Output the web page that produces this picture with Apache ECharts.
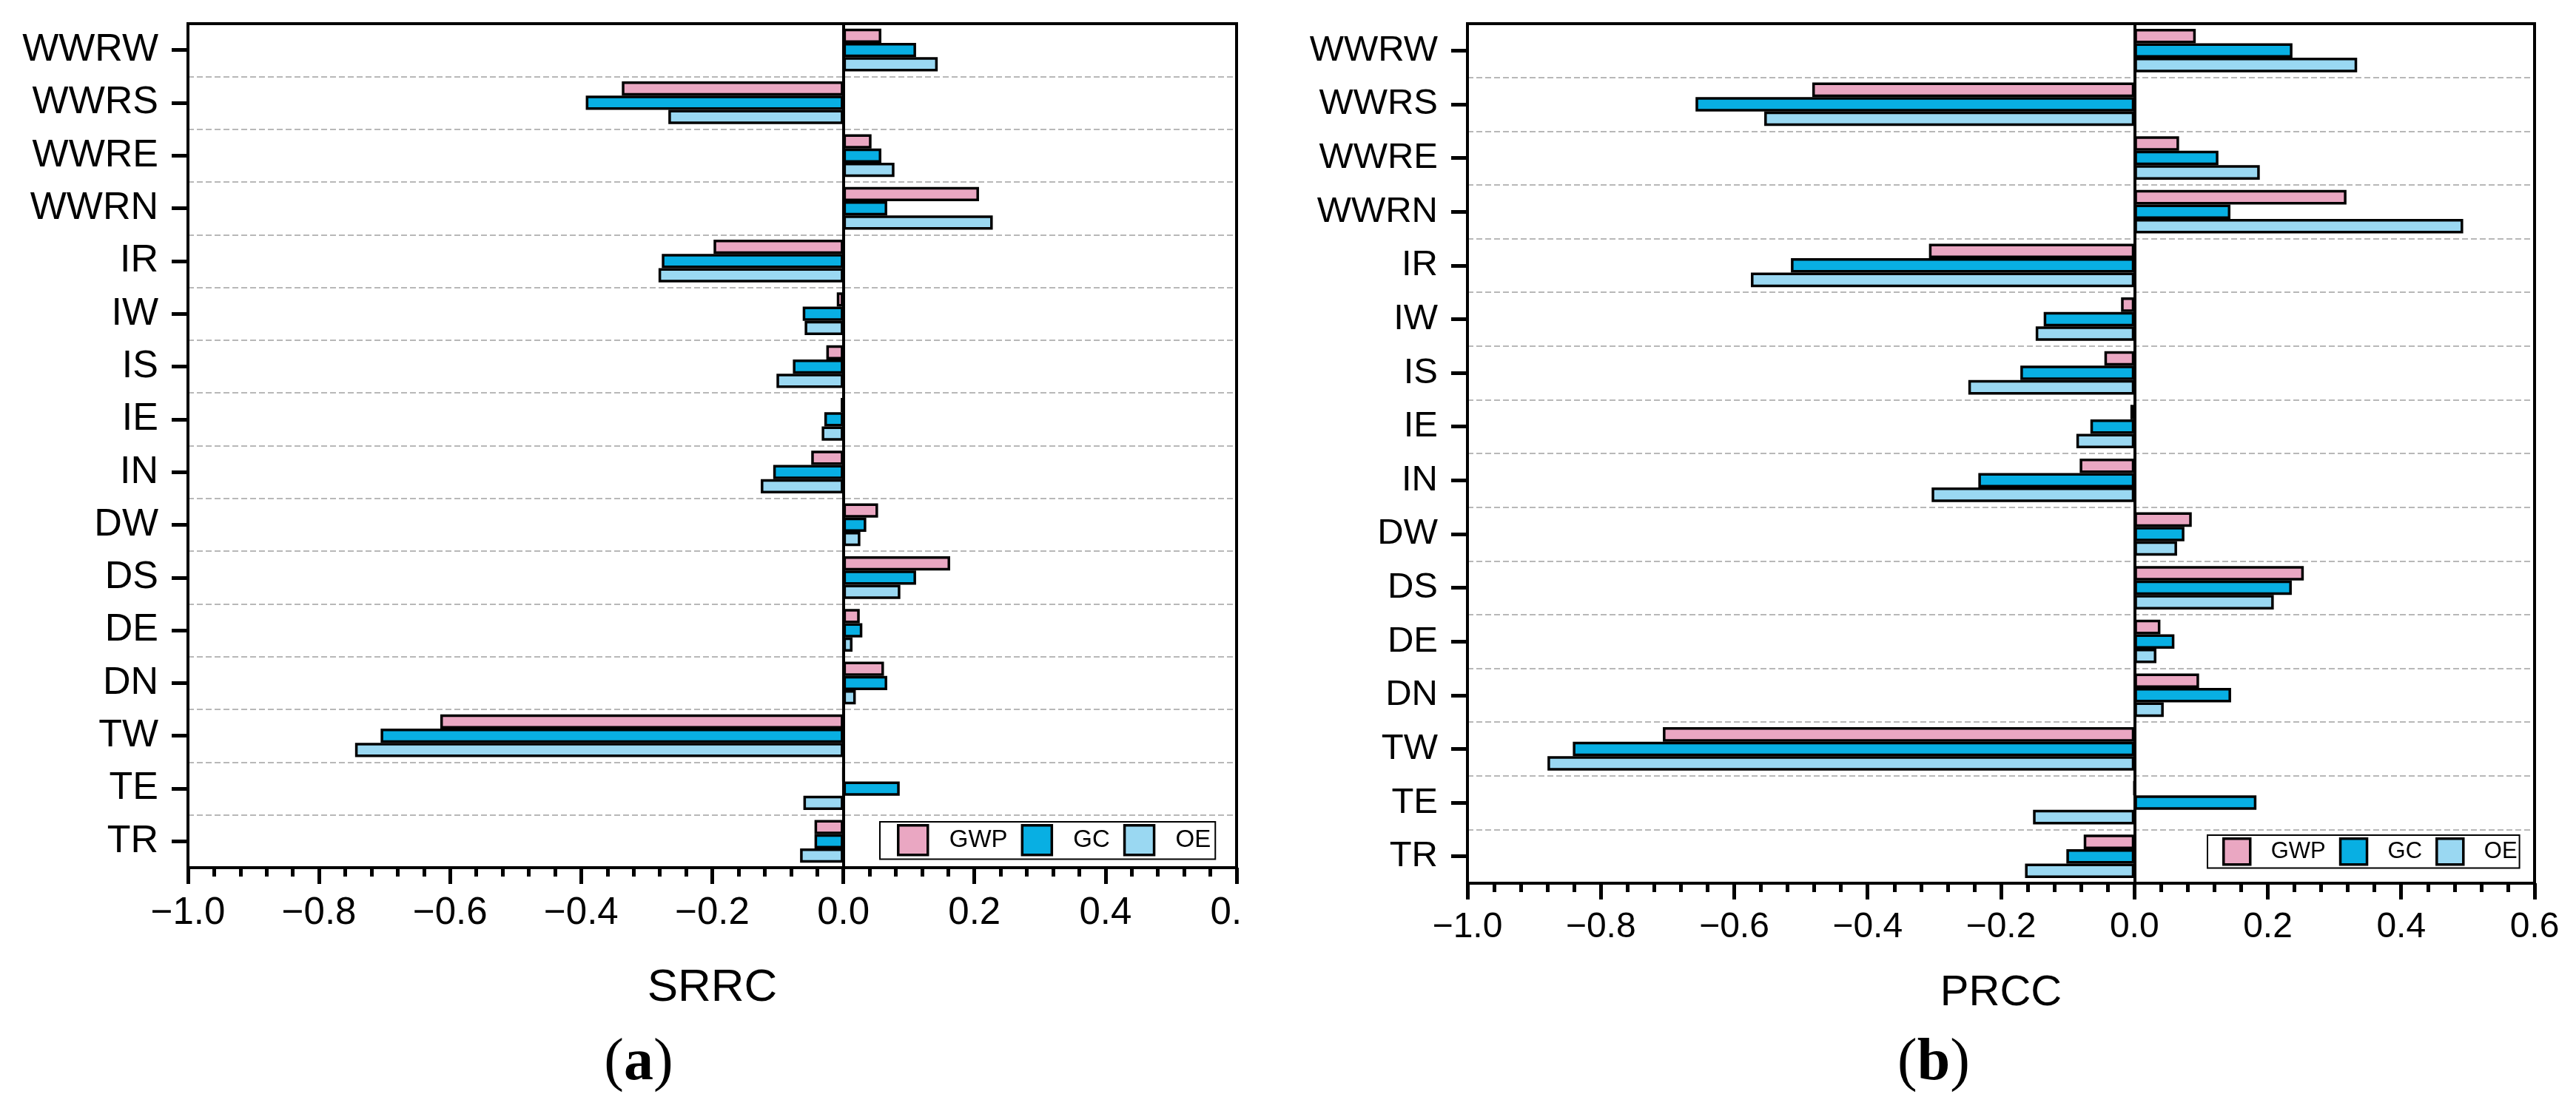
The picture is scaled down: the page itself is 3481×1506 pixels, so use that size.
<!DOCTYPE html>
<html>
<head>
<meta charset="utf-8">
<script src="https://cdn.jsdelivr.net/npm/echarts@6/dist/echarts.min.js"></script>
<style>
html,body{margin:0;padding:0;background:#fff;width:3481px;height:1506px;overflow:hidden;}
#a{position:absolute;left:0;top:0;width:1676px;height:1506px;}
#b{position:absolute;left:1676px;top:0;width:1805px;height:1506px;}
</style>
</head>
<body>
<div id="a"></div>
<div id="b"></div>
<script>
// categories, top to bottom
const categories = ['WWRW','WWRS','WWRE','WWRN','IR','IW','IS','IE','IN','DW','DS','DE','DN','TW','TE','TR'];
const seriesNames = ['GWP','GC','OE'];
const xTicks = [-1.0,-0.8,-0.6,-0.4,-0.2,0.0,0.2,0.4,0.6];

// (a) SRRC
const srrcGWP = [0.058,-0.338,0.043,0.207,-0.198,-0.010,-0.026,-0.004,-0.049,0.053,0.163,0.025,0.062,-0.615,0.000,-0.044];
const srrcGC  = [0.111,-0.393,0.058,0.067,-0.277,-0.062,-0.077,-0.029,-0.107,0.035,0.111,0.029,0.067,-0.706,0.086,-0.044];
const srrcOE  = [0.144,-0.267,0.078,0.228,-0.282,-0.059,-0.102,-0.033,-0.126,0.026,0.087,0.014,0.019,-0.745,-0.061,-0.066];

// (b) PRCC
const prccGWP = [0.092,-0.483,0.067,0.318,-0.308,-0.020,-0.045,-0.006,-0.082,0.086,0.254,0.039,0.097,-0.707,0.000,-0.076];
const prccGC  = [0.237,-0.658,0.126,0.144,-0.515,-0.136,-0.171,-0.066,-0.234,0.075,0.236,0.060,0.145,-0.842,0.183,-0.102];
const prccOE  = [0.334,-0.555,0.188,0.493,-0.575,-0.148,-0.249,-0.087,-0.304,0.064,0.209,0.033,0.044,-0.880,-0.152,-0.164];

const colors = ['#EAA7C2','#08AFE3','#9AD8F2'];
const FONT = "'Liberation Sans', Arial, Helvetica, sans-serif";
const SERIF = "'Liberation Serif', 'Times New Roman', serif";

function fmt(v){
  const s = Math.abs(v).toFixed(1);
  return (v < -1e-9 ? '\u2212' : '') + s;
}

function build(cfg){
  const dataSets = cfg.data;
  const series = seriesNames.map((name,i)=>{
    const s = {
      name: name,
      type: 'bar',
      data: dataSets[i],
      barGap: '0%',
      barCategoryGap: '19%',
      itemStyle: {color: colors[i], borderColor:'#000', borderWidth: 3.5},
      emphasis: {disabled:true}
    };
    if (i === 2) {
      s.markLine = {
        silent: true, symbol: ['none','none'], animation:false,
        label: {show:false},
        lineStyle: {color:'#000', width:4, type:'solid'},
        data: [{xAxis: 0}]
      };
    }
    return s;
  });
  return {
    animation: false,
    backgroundColor: 'transparent',
    grid: {left: cfg.gl, top: 32, width: cfg.gw, height: cfg.gh, show: true,
      borderColor:'#000', borderWidth: 4, backgroundColor:'transparent',
      containLabel: false, outerBoundsMode: 'none', z: 5},
    legend: {
      data: seriesNames, icon: 'rect', orient:'horizontal',
      left: cfg.lgLeft, top: cfg.lgTop,
      itemWidth: cfg.lgIconW, itemHeight: cfg.lgIconH, itemGap: cfg.lgGap,
      padding: cfg.lgPad,
      borderColor:'#000', borderWidth: 2, backgroundColor:'#fff',
      itemStyle: {borderColor:'#000', borderWidth:3.5},
      textStyle: {fontFamily: FONT, fontSize: cfg.lgFont, color:'#000', padding:[0,0,0,cfg.lgTextPad]},
      selectedMode: false
    },
    xAxis: {
      type:'value', min: xTicks[0], max: xTicks[xTicks.length-1], interval: 0.2,
      name: cfg.name, nameLocation:'middle', nameGap: cfg.nameGap,
      nameTextStyle: {fontFamily: FONT, fontSize: cfg.nameFont, color:'#000'},
      axisLine: {show:true, onZero:false, lineStyle:{color:'#000', width:4}},
      axisTick: {show:true, inside:false, length:22, lineStyle:{color:'#000', width:5}},
      minorTick: {show:true, splitNumber:5, length:12, lineStyle:{color:'#000', width:5}},
      splitLine: {show:false},
      axisLabel: {fontFamily: FONT, fontSize: cfg.tickFont, color:'#000', margin: 36, formatter: fmt, showMaxLabel:true, showMinLabel:true, hideOverlap:false}
    },
    yAxis: {
      type:'category', data: categories, inverse: true,
      axisLine: {show:true, onZero:false, lineStyle:{color:'#000', width:4}},
      axisTick: {show:true, inside:false, alignWithLabel:true, length:22, lineStyle:{color:'#000', width:5}},
      axisLabel: {fontFamily: FONT, fontSize: cfg.catFont, color:'#000', margin: 40, interval: 0},
      splitLine: {show:true, interval: 0, showMinLine:false, showMaxLine:false,
        lineStyle:{color:'#b8b8b8', width:2, type:[8,4]}}
    },
    graphic: [{
      type:'text',
      x: cfg.panelX, y: cfg.panelY,
      style: {
        text: '{p|(}{b|' + cfg.panel + '}{p|)}',
        align: 'center', verticalAlign: 'middle',
        rich: {
          p: {fontFamily: SERIF, fontSize: 80, color:'#000'},
          b: {fontFamily: SERIF, fontSize: 80, fontWeight:'bold', color:'#000'}
        }
      }
    }],
    series: series
  };
}

const chartA = echarts.init(document.getElementById('a'), null, {renderer:'canvas'});
chartA.setOption(build({
  data: [srrcGWP, srrcGC, srrcOE],
  gl: 254, gw: 1417, gh: 1141,
  lgLeft: 1189, lgTop: 1111, lgIconW: 40, lgIconH: 40, lgGap: 18, lgPad: [3,6,4,23], lgFont: 33, lgTextPad: 24,
  name: 'SRRC', nameGap: 132, nameFont: 62,
  tickFont: 51, catFont: 52,
  panel: 'a', panelX: 863, panelY: 1438
}));

const chartB = echarts.init(document.getElementById('b'), null, {renderer:'canvas'});
chartB.setOption(build({
  data: [prccGWP, prccGC, prccOE],
  gl: 307, gw: 1442, gh: 1162,
  lgLeft: 1307, lgTop: 1129, lgIconW: 36, lgIconH: 35, lgGap: 18, lgPad: [3,3,3,20], lgFont: 31, lgTextPad: 23,
  name: 'PRCC', nameGap: 120, nameFont: 58,
  tickFont: 48, catFont: 49,
  panel: 'b', panelX: 937, panelY: 1438
}));
</script>
</body>
</html>
